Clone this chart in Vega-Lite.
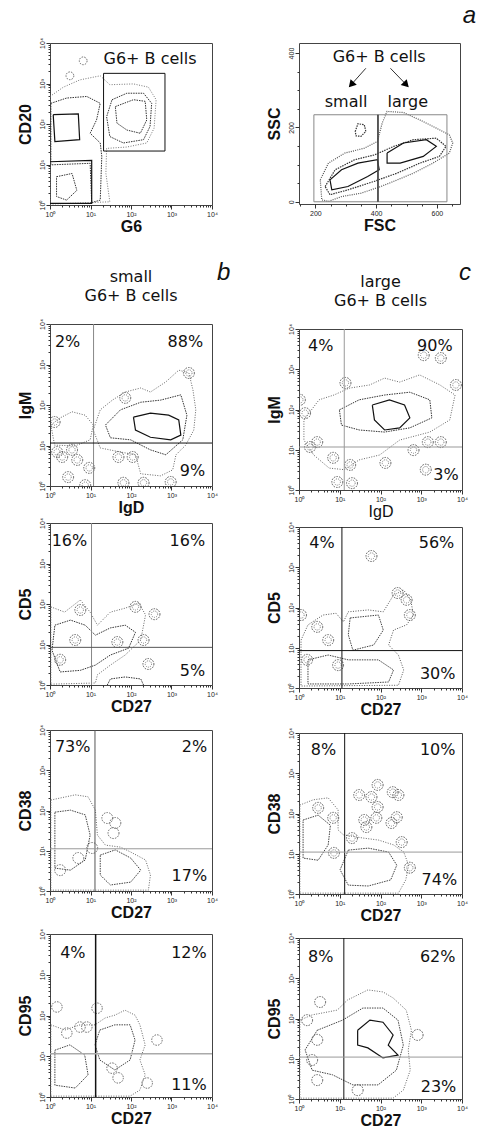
{
"$schema":"https://vega.github.io/schema/vega-lite/v6.json",
"padding":{"left":16,"top":3,"right":0,"bottom":0},
"background":"white",
"config":{
 "view":{"stroke":"#444","strokeWidth":1},
 "font":"Liberation Sans",
 "axis":{"domain":false,"grid":false,"labelFont":"Liberation Sans","labelFontSize":7,"labelColor":"#222","labelPadding":1,"tickColor":"#333","tickWidth":1,"titleFont":"Liberation Sans","titleFontSize":16,"titleFontWeight":"bold","titleColor":"#111"},
 "axisX":{"titlePadding":1},
 "axisY":{"labelAngle":270,"titlePadding":5},
 "title":{"font":"DejaVu Sans","fontWeight":"normal","fontSize":16,"color":"#111"}
},
"datasets":{
"contours":[
{"p":"A1","c":"A1a","l":1,"i":0,"x":1,"y":479},{"p":"A1","c":"A1a","l":1,"i":1,"x":2.14,"y":813},{"p":"A1","c":"A1a","l":1,"i":2,"x":5.5,"y":1230},{"p":"A1","c":"A1a","l":1,"i":3,"x":17.4,"y":1550},{"p":"A1","c":"A1a","l":1,"i":4,"x":30,"y":933},{"p":"A1","c":"A1a","l":1,"i":5,"x":115,"y":977},{"p":"A1","c":"A1a","l":1,"i":6,"x":269,"y":813},{"p":"A1","c":"A1a","l":1,"i":7,"x":417,"y":398},{"p":"A1","c":"A1a","l":1,"i":8,"x":372,"y":79},{"p":"A1","c":"A1a","l":1,"i":9,"x":245,"y":34},{"p":"A1","c":"A1a","l":1,"i":10,"x":79,"y":27},{"p":"A1","c":"A1a","l":1,"i":11,"x":25,"y":25},{"p":"A1","c":"A1a","l":1,"i":12,"x":24,"y":6},{"p":"A1","c":"A1a","l":1,"i":13,"x":30,"y":1.2},{"p":"A1","c":"A1a","l":1,"i":14,"x":1,"y":1.05},{"p":"A1","c":"A1a","l":1,"i":15,"x":1,"y":479},
{"p":"A1","c":"A1b","l":2,"i":0,"x":1.05,"y":324},{"p":"A1","c":"A1b","l":2,"i":1,"x":2.57,"y":437},{"p":"A1","c":"A1b","l":2,"i":2,"x":8.1,"y":479},{"p":"A1","c":"A1b","l":2,"i":3,"x":17.4,"y":324},{"p":"A1","c":"A1b","l":2,"i":4,"x":14.1,"y":126},{"p":"A1","c":"A1b","l":2,"i":5,"x":9.8,"y":59},{"p":"A1","c":"A1b","l":2,"i":6,"x":17.4,"y":34},{"p":"A1","c":"A1b","l":2,"i":7,"x":19,"y":15.8},{"p":"A1","c":"A1b","l":2,"i":8,"x":17.4,"y":1.32},{"p":"A1","c":"A1b","l":2,"i":9,"x":10.7,"y":1.15},{"p":"A1","c":"A1b","l":2,"i":10,"x":9.8,"y":10.7},{"p":"A1","c":"A1b","l":2,"i":11,"x":1.05,"y":9.8},{"p":"A1","c":"A1b","l":2,"i":12,"x":1.05,"y":324},
{"p":"A1","c":"A1c","l":3,"i":0,"x":1.2,"y":170},{"p":"A1","c":"A1c","l":3,"i":1,"x":5,"y":178},{"p":"A1","c":"A1c","l":3,"i":2,"x":5.4,"y":41},{"p":"A1","c":"A1c","l":3,"i":3,"x":1.32,"y":37},{"p":"A1","c":"A1c","l":3,"i":4,"x":1.2,"y":170},
{"p":"A1","c":"A1d","l":3,"i":0,"x":1,"y":11.7},{"p":"A1","c":"A1d","l":3,"i":1,"x":10.7,"y":12.6},{"p":"A1","c":"A1d","l":3,"i":2,"x":10.7,"y":1.1},{"p":"A1","c":"A1d","l":3,"i":3,"x":1,"y":1.1},
{"p":"A1","c":"A1e","l":2,"i":0,"x":34,"y":398},{"p":"A1","c":"A1e","l":2,"i":1,"x":79,"y":575},{"p":"A1","c":"A1e","l":2,"i":2,"x":204,"y":575},{"p":"A1","c":"A1e","l":2,"i":3,"x":324,"y":324},{"p":"A1","c":"A1e","l":2,"i":4,"x":295,"y":87},{"p":"A1","c":"A1e","l":2,"i":5,"x":204,"y":41},{"p":"A1","c":"A1e","l":2,"i":6,"x":65,"y":34},{"p":"A1","c":"A1e","l":2,"i":7,"x":30,"y":49},{"p":"A1","c":"A1e","l":2,"i":8,"x":25,"y":151},{"p":"A1","c":"A1e","l":2,"i":9,"x":34,"y":398},
{"p":"A1","c":"A1f","l":2,"i":0,"x":41,"y":269},{"p":"A1","c":"A1f","l":2,"i":1,"x":115,"y":398},{"p":"A1","c":"A1f","l":2,"i":2,"x":224,"y":363},{"p":"A1","c":"A1f","l":2,"i":3,"x":245,"y":126},{"p":"A1","c":"A1f","l":2,"i":4,"x":170,"y":59},{"p":"A1","c":"A1f","l":2,"i":5,"x":79,"y":71},{"p":"A1","c":"A1f","l":2,"i":6,"x":45,"y":105},{"p":"A1","c":"A1f","l":2,"i":7,"x":41,"y":269},
{"p":"A1","c":"A1g","l":2,"i":0,"x":1.45,"y":5},{"p":"A1","c":"A1g","l":2,"i":1,"x":3.5,"y":6},{"p":"A1","c":"A1g","l":2,"i":2,"x":4.6,"y":2.3},{"p":"A1","c":"A1g","l":2,"i":3,"x":2.57,"y":1.32},{"p":"A1","c":"A1g","l":2,"i":4,"x":1.45,"y":1.62},{"p":"A1","c":"A1g","l":2,"i":5,"x":1.45,"y":5},
{"p":"A2","c":"A2a","l":1,"i":0,"x":216,"y":59},{"p":"A2","c":"A2a","l":1,"i":1,"x":243,"y":104},{"p":"A2","c":"A2a","l":1,"i":2,"x":297,"y":131},{"p":"A2","c":"A2a","l":1,"i":3,"x":361,"y":144},{"p":"A2","c":"A2a","l":1,"i":4,"x":404,"y":162},{"p":"A2","c":"A2a","l":1,"i":5,"x":420,"y":212},{"p":"A2","c":"A2a","l":1,"i":6,"x":436,"y":243},{"p":"A2","c":"A2a","l":1,"i":7,"x":490,"y":240},{"p":"A2","c":"A2a","l":1,"i":8,"x":544,"y":220},{"p":"A2","c":"A2a","l":1,"i":9,"x":598,"y":198},{"p":"A2","c":"A2a","l":1,"i":10,"x":641,"y":180},{"p":"A2","c":"A2a","l":1,"i":11,"x":652,"y":158},{"p":"A2","c":"A2a","l":1,"i":12,"x":641,"y":131},{"p":"A2","c":"A2a","l":1,"i":13,"x":587,"y":104},{"p":"A2","c":"A2a","l":1,"i":14,"x":523,"y":77},{"p":"A2","c":"A2a","l":1,"i":15,"x":458,"y":55},{"p":"A2","c":"A2a","l":1,"i":16,"x":415,"y":41},{"p":"A2","c":"A2a","l":1,"i":17,"x":350,"y":23},{"p":"A2","c":"A2a","l":1,"i":18,"x":286,"y":14},{"p":"A2","c":"A2a","l":1,"i":19,"x":243,"y":1},{"p":"A2","c":"A2a","l":1,"i":20,"x":221,"y":5},{"p":"A2","c":"A2a","l":1,"i":21,"x":216,"y":59},
{"p":"A2","c":"A2b","l":2,"i":0,"x":232,"y":41},{"p":"A2","c":"A2b","l":2,"i":1,"x":265,"y":86},{"p":"A2","c":"A2b","l":2,"i":2,"x":329,"y":113},{"p":"A2","c":"A2b","l":2,"i":3,"x":394,"y":126},{"p":"A2","c":"A2b","l":2,"i":4,"x":458,"y":149},{"p":"A2","c":"A2b","l":2,"i":5,"x":523,"y":167},{"p":"A2","c":"A2b","l":2,"i":6,"x":598,"y":171},{"p":"A2","c":"A2b","l":2,"i":7,"x":630,"y":149},{"p":"A2","c":"A2b","l":2,"i":8,"x":608,"y":122},{"p":"A2","c":"A2b","l":2,"i":9,"x":544,"y":104},{"p":"A2","c":"A2b","l":2,"i":10,"x":469,"y":77},{"p":"A2","c":"A2b","l":2,"i":11,"x":394,"y":55},{"p":"A2","c":"A2b","l":2,"i":12,"x":307,"y":32},{"p":"A2","c":"A2b","l":2,"i":13,"x":248,"y":19},{"p":"A2","c":"A2b","l":2,"i":14,"x":232,"y":41},
{"p":"A2","c":"A2c","l":3,"i":0,"x":248,"y":59},{"p":"A2","c":"A2c","l":3,"i":1,"x":286,"y":86},{"p":"A2","c":"A2c","l":3,"i":2,"x":340,"y":104},{"p":"A2","c":"A2c","l":3,"i":3,"x":404,"y":113},{"p":"A2","c":"A2c","l":3,"i":4,"x":410,"y":86},{"p":"A2","c":"A2c","l":3,"i":5,"x":372,"y":68},{"p":"A2","c":"A2c","l":3,"i":6,"x":307,"y":41},{"p":"A2","c":"A2c","l":3,"i":7,"x":254,"y":32},{"p":"A2","c":"A2c","l":3,"i":8,"x":248,"y":59},
{"p":"A2","c":"A2d","l":3,"i":0,"x":436,"y":131},{"p":"A2","c":"A2d","l":3,"i":1,"x":490,"y":158},{"p":"A2","c":"A2d","l":3,"i":2,"x":565,"y":167},{"p":"A2","c":"A2d","l":3,"i":3,"x":598,"y":149},{"p":"A2","c":"A2d","l":3,"i":4,"x":555,"y":122},{"p":"A2","c":"A2d","l":3,"i":5,"x":479,"y":104},{"p":"A2","c":"A2d","l":3,"i":6,"x":436,"y":104},{"p":"A2","c":"A2d","l":3,"i":7,"x":436,"y":131},
{"p":"A2","c":"A2e","l":2,"i":0,"x":331,"y":189},{"p":"A2","c":"A2e","l":2,"i":1,"x":340,"y":210},{"p":"A2","c":"A2e","l":2,"i":2,"x":361,"y":207},{"p":"A2","c":"A2e","l":2,"i":3,"x":366,"y":189},{"p":"A2","c":"A2e","l":2,"i":4,"x":350,"y":176},{"p":"A2","c":"A2e","l":2,"i":5,"x":334,"y":177},{"p":"A2","c":"A2e","l":2,"i":6,"x":331,"y":189},
{"p":"BS","c":"BSa","l":1,"i":0,"x":11.7,"y":24},{"p":"BS","c":"BSa","l":1,"i":1,"x":17.4,"y":76},{"p":"BS","c":"BSa","l":1,"i":2,"x":34.7,"y":132},{"p":"BS","c":"BSa","l":1,"i":3,"x":72,"y":209},{"p":"BS","c":"BSa","l":1,"i":4,"x":174,"y":263},{"p":"BS","c":"BSa","l":1,"i":5,"x":302,"y":209},{"p":"BS","c":"BSa","l":1,"i":6,"x":724,"y":372},{"p":"BS","c":"BSa","l":1,"i":7,"x":1510,"y":724},{"p":"BS","c":"BSa","l":1,"i":8,"x":2690,"y":617},{"p":"BS","c":"BSa","l":1,"i":9,"x":3390,"y":234},{"p":"BS","c":"BSa","l":1,"i":10,"x":3980,"y":76},{"p":"BS","c":"BSa","l":1,"i":11,"x":3550,"y":24},{"p":"BS","c":"BSa","l":1,"i":12,"x":2240,"y":10.2},{"p":"BS","c":"BSa","l":1,"i":13,"x":1290,"y":5.9},{"p":"BS","c":"BSa","l":1,"i":14,"x":1070,"y":2.5},{"p":"BS","c":"BSa","l":1,"i":15,"x":537,"y":1.78},{"p":"BS","c":"BSa","l":1,"i":16,"x":174,"y":2},{"p":"BS","c":"BSa","l":1,"i":17,"x":129,"y":5.9},{"p":"BS","c":"BSa","l":1,"i":18,"x":55,"y":6.9},{"p":"BS","c":"BSa","l":1,"i":19,"x":17.4,"y":8.7},{"p":"BS","c":"BSa","l":1,"i":20,"x":11.7,"y":24},
{"p":"BS","c":"BSb","l":1,"i":0,"x":1.05,"y":32},{"p":"BS","c":"BSb","l":1,"i":1,"x":1.78,"y":48},{"p":"BS","c":"BSb","l":1,"i":2,"x":3.5,"y":68},{"p":"BS","c":"BSb","l":1,"i":3,"x":7.4,"y":56},{"p":"BS","c":"BSb","l":1,"i":4,"x":11.7,"y":32},{"p":"BS","c":"BSb","l":1,"i":5,"x":9.8,"y":13.8},{"p":"BS","c":"BSb","l":1,"i":6,"x":4.2,"y":9.8},{"p":"BS","c":"BSb","l":1,"i":7,"x":1.3,"y":10.2},{"p":"BS","c":"BSb","l":1,"i":8,"x":1.05,"y":32},
{"p":"BS","c":"BSc","l":2,"i":0,"x":23.4,"y":32},{"p":"BS","c":"BSc","l":2,"i":1,"x":55,"y":76},{"p":"BS","c":"BSc","l":2,"i":2,"x":174,"y":117},{"p":"BS","c":"BSc","l":2,"i":3,"x":537,"y":132},{"p":"BS","c":"BSc","l":2,"i":4,"x":1700,"y":178},{"p":"BS","c":"BSc","l":2,"i":5,"x":2400,"y":56},{"p":"BS","c":"BSc","l":2,"i":6,"x":1900,"y":13.8},{"p":"BS","c":"BSc","l":2,"i":7,"x":724,"y":5.9},{"p":"BS","c":"BSc","l":2,"i":8,"x":302,"y":7.8},{"p":"BS","c":"BSc","l":2,"i":9,"x":98,"y":13.8},{"p":"BS","c":"BSc","l":2,"i":10,"x":31,"y":15.5},{"p":"BS","c":"BSc","l":2,"i":11,"x":23.4,"y":32},
{"p":"BS","c":"BSd","l":3,"i":0,"x":115,"y":50},{"p":"BS","c":"BSd","l":3,"i":1,"x":302,"y":63},{"p":"BS","c":"BSd","l":3,"i":2,"x":851,"y":56},{"p":"BS","c":"BSd","l":3,"i":3,"x":1510,"y":43},{"p":"BS","c":"BSd","l":3,"i":4,"x":1700,"y":18},{"p":"BS","c":"BSd","l":3,"i":5,"x":955,"y":13.8},{"p":"BS","c":"BSd","l":3,"i":6,"x":302,"y":16},{"p":"BS","c":"BSd","l":3,"i":7,"x":129,"y":24},{"p":"BS","c":"BSd","l":3,"i":8,"x":115,"y":50},
{"p":"BL","c":"BLa","l":1,"i":0,"x":1.32,"y":55},{"p":"BL","c":"BLa","l":1,"i":1,"x":3.1,"y":174},{"p":"BL","c":"BLa","l":1,"i":2,"x":7.2,"y":229},{"p":"BL","c":"BLa","l":1,"i":3,"x":17,"y":339},{"p":"BL","c":"BLa","l":1,"i":4,"x":54,"y":407},{"p":"BL","c":"BLa","l":1,"i":5,"x":126,"y":603},{"p":"BL","c":"BLa","l":1,"i":6,"x":295,"y":479},{"p":"BL","c":"BLa","l":1,"i":7,"x":912,"y":724},{"p":"BL","c":"BLa","l":1,"i":8,"x":2880,"y":407},{"p":"BL","c":"BLa","l":1,"i":9,"x":6760,"y":229},{"p":"BL","c":"BLa","l":1,"i":10,"x":5010,"y":55},{"p":"BL","c":"BLa","l":1,"i":11,"x":1620,"y":27.5},{"p":"BL","c":"BLa","l":1,"i":12,"x":295,"y":17.4},{"p":"BL","c":"BLa","l":1,"i":13,"x":95,"y":7.4},{"p":"BL","c":"BLa","l":1,"i":14,"x":30,"y":5.6},{"p":"BL","c":"BLa","l":1,"i":15,"x":12.9,"y":3.2},{"p":"BL","c":"BLa","l":1,"i":16,"x":5.5,"y":3.5},{"p":"BL","c":"BLa","l":1,"i":17,"x":2.3,"y":7.4},{"p":"BL","c":"BLa","l":1,"i":18,"x":1.32,"y":17.4},{"p":"BL","c":"BLa","l":1,"i":19,"x":1.32,"y":55},
{"p":"BL","c":"BLb","l":2,"i":0,"x":9.8,"y":98},{"p":"BL","c":"BLb","l":2,"i":1,"x":30,"y":174},{"p":"BL","c":"BLb","l":2,"i":2,"x":126,"y":229},{"p":"BL","c":"BLb","l":2,"i":3,"x":525,"y":269},{"p":"BL","c":"BLb","l":2,"i":4,"x":1620,"y":174},{"p":"BL","c":"BLb","l":2,"i":5,"x":1820,"y":62},{"p":"BL","c":"BLb","l":2,"i":6,"x":525,"y":35},{"p":"BL","c":"BLb","l":2,"i":7,"x":126,"y":27.5},{"p":"BL","c":"BLb","l":2,"i":8,"x":30,"y":31},{"p":"BL","c":"BLb","l":2,"i":9,"x":11,"y":41},{"p":"BL","c":"BLb","l":2,"i":10,"x":9.8,"y":98},
{"p":"BL","c":"BLc","l":3,"i":0,"x":63,"y":129},{"p":"BL","c":"BLc","l":3,"i":1,"x":166,"y":174},{"p":"BL","c":"BLc","l":3,"i":2,"x":389,"y":129},{"p":"BL","c":"BLc","l":3,"i":3,"x":525,"y":62},{"p":"BL","c":"BLc","l":3,"i":4,"x":295,"y":35},{"p":"BL","c":"BLc","l":3,"i":5,"x":126,"y":31},{"p":"BL","c":"BLc","l":3,"i":6,"x":71,"y":55},{"p":"BL","c":"BLc","l":3,"i":7,"x":63,"y":129},
{"p":"CS","c":"CSa","l":1,"i":0,"x":1.05,"y":85},{"p":"CS","c":"CSa","l":1,"i":1,"x":2.3,"y":63},{"p":"CS","c":"CSa","l":1,"i":2,"x":5.6,"y":126},{"p":"CS","c":"CSa","l":1,"i":3,"x":9.8,"y":63},{"p":"CS","c":"CSa","l":1,"i":4,"x":14.8,"y":30},{"p":"CS","c":"CSa","l":1,"i":5,"x":31,"y":63},{"p":"CS","c":"CSa","l":1,"i":6,"x":72,"y":79},{"p":"CS","c":"CSa","l":1,"i":7,"x":155,"y":105},{"p":"CS","c":"CSa","l":1,"i":8,"x":229,"y":54},{"p":"CS","c":"CSa","l":1,"i":9,"x":174,"y":12.9},{"p":"CS","c":"CSa","l":1,"i":10,"x":72,"y":5.5},{"p":"CS","c":"CSa","l":1,"i":11,"x":31,"y":3.1},{"p":"CS","c":"CSa","l":1,"i":12,"x":14.8,"y":1.78},{"p":"CS","c":"CSa","l":1,"i":13,"x":13.2,"y":1.12},{"p":"CS","c":"CSa","l":1,"i":14,"x":1.05,"y":1.05},{"p":"CS","c":"CSa","l":1,"i":15,"x":1.05,"y":85},
{"p":"CS","c":"CSb","l":2,"i":0,"x":1.32,"y":30},{"p":"CS","c":"CSb","l":2,"i":1,"x":3.2,"y":40},{"p":"CS","c":"CSb","l":2,"i":2,"x":7.4,"y":30},{"p":"CS","c":"CSb","l":2,"i":3,"x":13.2,"y":17},{"p":"CS","c":"CSb","l":2,"i":4,"x":31,"y":25.7},{"p":"CS","c":"CSb","l":2,"i":5,"x":72,"y":30},{"p":"CS","c":"CSb","l":2,"i":6,"x":129,"y":20},{"p":"CS","c":"CSb","l":2,"i":7,"x":87,"y":8.1},{"p":"CS","c":"CSb","l":2,"i":8,"x":31,"y":5.5},{"p":"CS","c":"CSb","l":2,"i":9,"x":13.2,"y":3.1},{"p":"CS","c":"CSb","l":2,"i":10,"x":5.6,"y":2.3},{"p":"CS","c":"CSb","l":2,"i":11,"x":1.78,"y":2.1},{"p":"CS","c":"CSb","l":2,"i":12,"x":1.12,"y":7.2},{"p":"CS","c":"CSb","l":2,"i":13,"x":1.32,"y":30},
{"p":"CS","c":"CSc","l":2,"i":0,"x":26,"y":1},{"p":"CS","c":"CSc","l":2,"i":1,"x":31,"y":1.41},{"p":"CS","c":"CSc","l":2,"i":2,"x":72,"y":1.58},{"p":"CS","c":"CSc","l":2,"i":3,"x":174,"y":1.41},{"p":"CS","c":"CSc","l":2,"i":4,"x":204,"y":1},
{"p":"CL","c":"CLa","l":1,"i":0,"x":1.12,"y":15.5},{"p":"CL","c":"CLa","l":1,"i":1,"x":1.66,"y":37},{"p":"CL","c":"CLa","l":1,"i":2,"x":3.9,"y":65},{"p":"CL","c":"CLa","l":1,"i":3,"x":8.1,"y":72},{"p":"CL","c":"CLa","l":1,"i":4,"x":12.3,"y":44},{"p":"CL","c":"CLa","l":1,"i":5,"x":16.2,"y":78},{"p":"CL","c":"CLa","l":1,"i":6,"x":50,"y":87},{"p":"CL","c":"CLa","l":1,"i":7,"x":117,"y":78},{"p":"CL","c":"CLa","l":1,"i":8,"x":209,"y":204},{"p":"CL","c":"CLa","l":1,"i":9,"x":372,"y":269},{"p":"CL","c":"CLa","l":1,"i":10,"x":550,"y":155},{"p":"CL","c":"CLa","l":1,"i":11,"x":646,"y":65},{"p":"CL","c":"CLa","l":1,"i":12,"x":437,"y":37},{"p":"CL","c":"CLa","l":1,"i":13,"x":209,"y":27.5},{"p":"CL","c":"CLa","l":1,"i":14,"x":158,"y":11.7},{"p":"CL","c":"CLa","l":1,"i":15,"x":275,"y":6.6},{"p":"CL","c":"CLa","l":1,"i":16,"x":372,"y":2.8},{"p":"CL","c":"CLa","l":1,"i":17,"x":275,"y":1.17},{"p":"CL","c":"CLa","l":1,"i":18,"x":1.12,"y":1.12},{"p":"CL","c":"CLa","l":1,"i":19,"x":1.12,"y":15.5},
{"p":"CL","c":"CLb","l":2,"i":0,"x":18,"y":55},{"p":"CL","c":"CLb","l":2,"i":1,"x":89,"y":65},{"p":"CL","c":"CLb","l":2,"i":2,"x":117,"y":27.5},{"p":"CL","c":"CLb","l":2,"i":3,"x":68,"y":11.7},{"p":"CL","c":"CLb","l":2,"i":4,"x":21,"y":8.7},{"p":"CL","c":"CLb","l":2,"i":5,"x":16.2,"y":21},{"p":"CL","c":"CLb","l":2,"i":6,"x":18,"y":55},
{"p":"CL","c":"CLc","l":2,"i":0,"x":1.66,"y":5},{"p":"CL","c":"CLc","l":2,"i":1,"x":5.2,"y":6.6},{"p":"CL","c":"CLc","l":2,"i":2,"x":16.2,"y":5},{"p":"CL","c":"CLc","l":2,"i":3,"x":89,"y":5},{"p":"CL","c":"CLc","l":2,"i":4,"x":209,"y":2.8},{"p":"CL","c":"CLc","l":2,"i":5,"x":158,"y":1.41},{"p":"CL","c":"CLc","l":2,"i":6,"x":16.2,"y":1.26},{"p":"CL","c":"CLc","l":2,"i":7,"x":1.66,"y":1.26},{"p":"CL","c":"CLc","l":2,"i":8,"x":1.66,"y":5},
{"p":"DS","c":"DSa","l":1,"i":0,"x":1.05,"y":182},{"p":"DS","c":"DSa","l":1,"i":1,"x":1.78,"y":204},{"p":"DS","c":"DSa","l":1,"i":2,"x":4.2,"y":245},{"p":"DS","c":"DSa","l":1,"i":3,"x":8.7,"y":219},{"p":"DS","c":"DSa","l":1,"i":4,"x":13.2,"y":102},{"p":"DS","c":"DSa","l":1,"i":5,"x":14.8,"y":24.5},{"p":"DS","c":"DSa","l":1,"i":6,"x":23.4,"y":13.8},{"p":"DS","c":"DSa","l":1,"i":7,"x":55,"y":12.3},{"p":"DS","c":"DSa","l":1,"i":8,"x":98,"y":9.3},{"p":"DS","c":"DSa","l":1,"i":9,"x":229,"y":5.9},{"p":"DS","c":"DSa","l":1,"i":10,"x":302,"y":2.5},{"p":"DS","c":"DSa","l":1,"i":11,"x":269,"y":1.05},{"p":"DS","c":"DSa","l":1,"i":12,"x":1.05,"y":1.05},{"p":"DS","c":"DSa","l":1,"i":13,"x":1.05,"y":182},
{"p":"DS","c":"DSb","l":2,"i":0,"x":1.32,"y":91},{"p":"DS","c":"DSb","l":2,"i":1,"x":3.2,"y":102},{"p":"DS","c":"DSb","l":2,"i":2,"x":7.4,"y":78},{"p":"DS","c":"DSb","l":2,"i":3,"x":9.8,"y":24.5},{"p":"DS","c":"DSb","l":2,"i":4,"x":7.4,"y":5.9},{"p":"DS","c":"DSb","l":2,"i":5,"x":3.2,"y":3.3},{"p":"DS","c":"DSb","l":2,"i":6,"x":1.32,"y":3.7},{"p":"DS","c":"DSb","l":2,"i":7,"x":1.32,"y":91},
{"p":"DS","c":"DSc","l":2,"i":0,"x":17.4,"y":7.8},{"p":"DS","c":"DSc","l":2,"i":1,"x":41,"y":10.5},{"p":"DS","c":"DSc","l":2,"i":2,"x":98,"y":6.6},{"p":"DS","c":"DSc","l":2,"i":3,"x":174,"y":3.3},{"p":"DS","c":"DSc","l":2,"i":4,"x":98,"y":1.66},{"p":"DS","c":"DSc","l":2,"i":5,"x":31,"y":1.41},{"p":"DS","c":"DSc","l":2,"i":6,"x":17.4,"y":2.5},{"p":"DS","c":"DSc","l":2,"i":7,"x":17.4,"y":7.8},
{"p":"DL","c":"DLa","l":1,"i":0,"x":1.05,"y":162},{"p":"DL","c":"DLa","l":1,"i":1,"x":2.24,"y":219},{"p":"DL","c":"DLa","l":1,"i":2,"x":5.2,"y":245},{"p":"DL","c":"DLa","l":1,"i":3,"x":9.1,"y":123},{"p":"DL","c":"DLa","l":1,"i":4,"x":9.1,"y":39},{"p":"DL","c":"DLa","l":1,"i":5,"x":12.3,"y":29.5},{"p":"DL","c":"DLa","l":1,"i":6,"x":38,"y":24.5},{"p":"DL","c":"DLa","l":1,"i":7,"x":89,"y":21.9},{"p":"DL","c":"DLa","l":1,"i":8,"x":209,"y":16.6},{"p":"DL","c":"DLa","l":1,"i":9,"x":372,"y":11},{"p":"DL","c":"DLa","l":1,"i":10,"x":490,"y":5.2},{"p":"DL","c":"DLa","l":1,"i":11,"x":417,"y":2.24},{"p":"DL","c":"DLa","l":1,"i":12,"x":275,"y":1.05},{"p":"DL","c":"DLa","l":1,"i":13,"x":1.05,"y":1.05},{"p":"DL","c":"DLa","l":1,"i":14,"x":1.05,"y":162},
{"p":"DL","c":"DLb","l":2,"i":0,"x":16.2,"y":12.3},{"p":"DL","c":"DLb","l":2,"i":1,"x":50,"y":13.8},{"p":"DL","c":"DLb","l":2,"i":2,"x":158,"y":11},{"p":"DL","c":"DLb","l":2,"i":3,"x":251,"y":5.2},{"p":"DL","c":"DLb","l":2,"i":4,"x":178,"y":2.24},{"p":"DL","c":"DLb","l":2,"i":5,"x":50,"y":1.58},{"p":"DL","c":"DLb","l":2,"i":6,"x":16.2,"y":1.66},{"p":"DL","c":"DLb","l":2,"i":7,"x":10.2,"y":4},{"p":"DL","c":"DLb","l":2,"i":8,"x":16.2,"y":12.3},
{"p":"DL","c":"DLc","l":2,"i":0,"x":1.26,"y":69},{"p":"DL","c":"DLc","l":2,"i":1,"x":2.95,"y":91},{"p":"DL","c":"DLc","l":2,"i":2,"x":5.9,"y":51},{"p":"DL","c":"DLc","l":2,"i":3,"x":5.2,"y":16.6},{"p":"DL","c":"DLc","l":2,"i":4,"x":2.95,"y":6.9},{"p":"DL","c":"DLc","l":2,"i":5,"x":1.26,"y":7.8},{"p":"DL","c":"DLc","l":2,"i":6,"x":1.26,"y":69},
{"p":"ES","c":"ESa","l":1,"i":0,"x":1.05,"y":59},{"p":"ES","c":"ESa","l":1,"i":1,"x":2.34,"y":44},{"p":"ES","c":"ESa","l":1,"i":2,"x":5.5,"y":59},{"p":"ES","c":"ESa","l":1,"i":3,"x":12.9,"y":59},{"p":"ES","c":"ESa","l":1,"i":4,"x":23,"y":87},{"p":"ES","c":"ESa","l":1,"i":5,"x":40,"y":102},{"p":"ES","c":"ESa","l":1,"i":6,"x":71,"y":135},{"p":"ES","c":"ESa","l":1,"i":7,"x":126,"y":102},{"p":"ES","c":"ESa","l":1,"i":8,"x":166,"y":59},{"p":"ES","c":"ESa","l":1,"i":9,"x":224,"y":19},{"p":"ES","c":"ESa","l":1,"i":10,"x":166,"y":8.1},{"p":"ES","c":"ESa","l":1,"i":11,"x":224,"y":3.5},{"p":"ES","c":"ESa","l":1,"i":12,"x":166,"y":1.48},{"p":"ES","c":"ESa","l":1,"i":13,"x":95,"y":1.05},{"p":"ES","c":"ESa","l":1,"i":14,"x":1.05,"y":1.05},{"p":"ES","c":"ESa","l":1,"i":15,"x":1.05,"y":59},
{"p":"ES","c":"ESb","l":2,"i":0,"x":17,"y":44},{"p":"ES","c":"ESb","l":2,"i":1,"x":40,"y":59},{"p":"ES","c":"ESb","l":2,"i":2,"x":95,"y":59},{"p":"ES","c":"ESb","l":2,"i":3,"x":126,"y":25},{"p":"ES","c":"ESb","l":2,"i":4,"x":95,"y":8.1},{"p":"ES","c":"ESb","l":2,"i":5,"x":40,"y":4.6},{"p":"ES","c":"ESb","l":2,"i":6,"x":17,"y":8.1},{"p":"ES","c":"ESb","l":2,"i":7,"x":12.9,"y":19},{"p":"ES","c":"ESb","l":2,"i":8,"x":17,"y":44},
{"p":"ES","c":"ESc","l":2,"i":0,"x":1.32,"y":14.1},{"p":"ES","c":"ESc","l":2,"i":1,"x":3.1,"y":19},{"p":"ES","c":"ESc","l":2,"i":2,"x":7.2,"y":10.7},{"p":"ES","c":"ESc","l":2,"i":3,"x":8.7,"y":3.5},{"p":"ES","c":"ESc","l":2,"i":4,"x":4.2,"y":1.66},{"p":"ES","c":"ESc","l":2,"i":5,"x":1.32,"y":1.95},{"p":"ES","c":"ESc","l":2,"i":6,"x":1.32,"y":14.1},
{"p":"EL","c":"ELa","l":1,"i":0,"x":1.05,"y":91},{"p":"EL","c":"ELa","l":1,"i":1,"x":2.1,"y":123},{"p":"EL","c":"ELa","l":1,"i":2,"x":5,"y":145},{"p":"EL","c":"ELa","l":1,"i":3,"x":8.7,"y":162},{"p":"EL","c":"ELa","l":1,"i":4,"x":15.5,"y":288},{"p":"EL","c":"ELa","l":1,"i":5,"x":49,"y":513},{"p":"EL","c":"ELa","l":1,"i":6,"x":115,"y":457},{"p":"EL","c":"ELa","l":1,"i":7,"x":204,"y":324},{"p":"EL","c":"ELa","l":1,"i":8,"x":427,"y":162},{"p":"EL","c":"ELa","l":1,"i":9,"x":575,"y":51},{"p":"EL","c":"ELa","l":1,"i":10,"x":479,"y":16.6},{"p":"EL","c":"ELa","l":1,"i":11,"x":537,"y":5.2},{"p":"EL","c":"ELa","l":1,"i":12,"x":363,"y":1.66},{"p":"EL","c":"ELa","l":1,"i":13,"x":204,"y":1.05},{"p":"EL","c":"ELa","l":1,"i":14,"x":1.05,"y":1.05},{"p":"EL","c":"ELa","l":1,"i":15,"x":1.05,"y":91},
{"p":"EL","c":"ELb","l":2,"i":0,"x":2.8,"y":51},{"p":"EL","c":"ELb","l":2,"i":1,"x":11.7,"y":91},{"p":"EL","c":"ELb","l":2,"i":2,"x":37,"y":182},{"p":"EL","c":"ELb","l":2,"i":3,"x":115,"y":182},{"p":"EL","c":"ELb","l":2,"i":4,"x":269,"y":91},{"p":"EL","c":"ELb","l":2,"i":5,"x":363,"y":21.9},{"p":"EL","c":"ELb","l":2,"i":6,"x":245,"y":5.2},{"p":"EL","c":"ELb","l":2,"i":7,"x":87,"y":2.24},{"p":"EL","c":"ELb","l":2,"i":8,"x":21,"y":2.24},{"p":"EL","c":"ELb","l":2,"i":9,"x":6.6,"y":4},{"p":"EL","c":"ELb","l":2,"i":10,"x":2.1,"y":5.2},{"p":"EL","c":"ELb","l":2,"i":11,"x":1.41,"y":16.6},{"p":"EL","c":"ELb","l":2,"i":12,"x":2.8,"y":51},
{"p":"EL","c":"ELc","l":3,"i":0,"x":27.5,"y":51},{"p":"EL","c":"ELc","l":3,"i":1,"x":55,"y":91},{"p":"EL","c":"ELc","l":3,"i":2,"x":115,"y":81},{"p":"EL","c":"ELc","l":3,"i":3,"x":204,"y":39},{"p":"EL","c":"ELc","l":3,"i":4,"x":155,"y":21.9},{"p":"EL","c":"ELc","l":3,"i":5,"x":269,"y":12.3},{"p":"EL","c":"ELc","l":3,"i":6,"x":115,"y":10.5},{"p":"EL","c":"ELc","l":3,"i":7,"x":49,"y":18.6},{"p":"EL","c":"ELc","l":3,"i":8,"x":27.5,"y":21.9},{"p":"EL","c":"ELc","l":3,"i":9,"x":27.5,"y":51}
],
"blobs":[
{"p":"A1","x":6.6,"y":3630},{"p":"A1","x":3.1,"y":1550},
{"p":"BS","x":2,"y":5.2},{"p":"BS","x":4.7,"y":4.4},{"p":"BS","x":2.8,"y":1.66},{"p":"BS","x":9.3,"y":2.8},{"p":"BS","x":7.4,"y":1.05},{"p":"BS","x":49,"y":5.2},{"p":"BS","x":110,"y":5.2},{"p":"BS","x":65,"y":1.2},{"p":"BS","x":204,"y":1.2},{"p":"BS","x":955,"y":1.26},{"p":"BS","x":1.3,"y":38},{"p":"BS","x":1.5,"y":6.9},{"p":"BS","x":3.5,"y":7.8},{"p":"BS","x":2690,"y":617},{"p":"BS","x":72,"y":150},
{"p":"BL","x":1150,"y":2240},{"p":"BL","x":3020,"y":1900},{"p":"BL","x":7080,"y":407},{"p":"BL","x":13.8,"y":457},{"p":"BL","x":1.41,"y":81},{"p":"BL","x":1.05,"y":174},{"p":"BL","x":2.8,"y":15.5},{"p":"BL","x":1450,"y":15.5},{"p":"BL","x":3020,"y":15.5},{"p":"BL","x":646,"y":9.8},{"p":"BL","x":1.86,"y":11.7},{"p":"BL","x":6.9,"y":6.3},{"p":"BL","x":18,"y":4.2},{"p":"BL","x":132,"y":4.7},{"p":"BL","x":1290,"y":3.2},{"p":"BL","x":8.7,"y":1.58},{"p":"BL","x":20,"y":1.48},
{"p":"CS","x":129,"y":85},{"p":"CS","x":380,"y":56},{"p":"CS","x":204,"y":12.9},{"p":"CS","x":269,"y":3.3},{"p":"CS","x":5.6,"y":71},{"p":"CS","x":1.78,"y":4.2},{"p":"CS","x":4.2,"y":12.9},{"p":"CS","x":46,"y":11.5},
{"p":"CL","x":60,"y":1900},{"p":"CL","x":263,"y":229},{"p":"CL","x":437,"y":155},{"p":"CL","x":525,"y":65},{"p":"CL","x":2.8,"y":33},{"p":"CL","x":1.58,"y":5},{"p":"CL","x":1.12,"y":65},{"p":"CL","x":5.2,"y":15.5},{"p":"CL","x":9.1,"y":3.7},
{"p":"DS","x":26,"y":65},{"p":"DS","x":41,"y":49},{"p":"DS","x":37,"y":27.5},{"p":"DS","x":1.78,"y":3.3},{"p":"DS","x":5,"y":6.6},{"p":"DS","x":11,"y":11.7},
{"p":"DL","x":85,"y":513},{"p":"DL","x":30,"y":288},{"p":"DL","x":60,"y":257},{"p":"DL","x":200,"y":339},{"p":"DL","x":275,"y":288},{"p":"DL","x":85,"y":145},{"p":"DL","x":79,"y":78},{"p":"DL","x":40,"y":69},{"p":"DL","x":45,"y":46},{"p":"DL","x":186,"y":58},{"p":"DL","x":251,"y":81},{"p":"DL","x":331,"y":19.5},{"p":"DL","x":20,"y":24.5},{"p":"DL","x":7.2,"y":10.5},{"p":"DL","x":525,"y":4.5},{"p":"DL","x":2.95,"y":138},{"p":"DL","x":6.9,"y":78},
{"p":"ES","x":1.48,"y":162},{"p":"ES","x":14.5,"y":151},{"p":"ES","x":437,"y":25},{"p":"ES","x":251,"y":2.2},{"p":"ES","x":5.5,"y":52},{"p":"ES","x":8.1,"y":52},{"p":"ES","x":2.6,"y":37},{"p":"ES","x":34,"y":5.1},{"p":"ES","x":48,"y":2.95},
{"p":"EL","x":3.3,"y":257},{"p":"EL","x":813,"y":39},{"p":"EL","x":1.58,"y":91},{"p":"EL","x":2.8,"y":29.5},{"p":"EL","x":2.1,"y":9.3},{"p":"EL","x":2.8,"y":2.95},{"p":"EL","x":27.5,"y":1.66}
],
"vlines":[{"p":"BS","x":11.9,"y":1,"y2":10000},{"p":"BL","x":12.9,"y":1,"y2":10000},{"p":"CS","x":10.6,"y":1,"y2":10000},{"p":"CL","x":11.3,"y":1,"y2":10000},{"p":"DS","x":12.9,"y":1,"y2":10000},{"p":"DL","x":13.2,"y":1,"y2":10000},{"p":"ES","x":13.4,"y":1,"y2":10000},{"p":"EL","x":12.6,"y":1,"y2":10000}],
"hlines":[{"p":"BS","y":11.5,"x":1,"x2":10000},{"p":"BL","y":11.7,"x":1,"x2":10000},{"p":"CS","y":8.5,"x":1,"x2":10000},{"p":"CL","y":8.5,"x":1,"x2":10000},{"p":"DS","y":11.2,"x":1,"x2":10000},{"p":"DL","y":11,"x":1,"x2":10000},{"p":"ES","y":11.5,"x":1,"x2":10000},{"p":"EL","y":11,"x":1,"x2":10000}],
"labels":[
{"p":"BS","q":"L","x":1.32,"y":3630,"t":"2%"},{"p":"BS","q":"R","x":6030,"y":3630,"t":"88%"},{"p":"BS","q":"R","x":6760,"y":2.34,"t":"9%"},
{"p":"BL","q":"L","x":1.66,"y":3720,"t":"4%"},{"p":"BL","q":"R","x":5890,"y":3720,"t":"90%"},{"p":"BL","q":"R","x":8320,"y":2.34,"t":"3%"},
{"p":"CS","q":"L","x":1.1,"y":3630,"t":"16%"},{"p":"CS","q":"R","x":6760,"y":3630,"t":"16%"},{"p":"CS","q":"R","x":6760,"y":2.24,"t":"5%"},
{"p":"CL","q":"L","x":1.78,"y":3980,"t":"4%"},{"p":"CL","q":"R","x":6460,"y":3980,"t":"56%"},{"p":"CL","q":"R","x":6920,"y":2.24,"t":"30%"},
{"p":"DS","q":"L","x":1.32,"y":3720,"t":"73%"},{"p":"DS","q":"R","x":7590,"y":3720,"t":"2%"},{"p":"DS","q":"R","x":7590,"y":2.34,"t":"17%"},
{"p":"DL","q":"L","x":1.95,"y":3800,"t":"8%"},{"p":"DL","q":"R","x":6920,"y":3800,"t":"10%"},{"p":"DL","q":"R","x":7590,"y":2.29,"t":"74%"},
{"p":"ES","q":"L","x":1.78,"y":3470,"t":"4%"},{"p":"ES","q":"R","x":7410,"y":3470,"t":"12%"},{"p":"ES","q":"R","x":7410,"y":2,"t":"11%"},
{"p":"EL","q":"L","x":1.66,"y":3470,"t":"8%"},{"p":"EL","q":"R","x":6920,"y":3470,"t":"62%"},{"p":"EL","q":"R","x":7240,"y":2,"t":"23%"},
{"p":"A1","q":"C","x":295,"y":4000,"t":"G6+ B cells"},
{"p":"A2","q":"C","x":410,"y":390,"t":"G6+ B cells"},{"p":"A2","q":"C","x":301,"y":269,"t":"small"},{"p":"A2","q":"C","x":504,"y":269,"t":"large"}
],
"gates":[
{"p":"A1","k":"box","x":21,"x2":690,"y":21.5,"y2":1780},
{"p":"A2","k":"box","x":195,"x2":406,"y":0,"y2":234},
{"p":"A2","k":"box","x":406,"x2":633,"y":0,"y2":234},
{"p":"A2","k":"div","x":406,"y":0,"y2":234}
],
"arrows":[{"p":"A2","a":1,"x":366,"y":359,"x2":318,"y2":315},{"p":"A2","a":2,"x":447,"y":359,"x2":499,"y2":315}]
},
"hconcat":[
 {"vconcat":[
  {"width":162,"height":162,
   "encoding":{
    "x":{"field":"x","type":"quantitative","scale":{"type":"log","domain":[1,10000]},"axis":{"title":"G6","values":[1,2,3,4,5,6,7,8,9,10,20,30,40,50,60,70,80,90,100,200,300,400,500,600,700,800,900,1000,2000,3000,4000,5000,6000,7000,8000,9000,10000],"labelExpr":"datum.value==1?'10⁰':datum.value==10?'10¹':datum.value==100?'10²':datum.value==1000?'10³':datum.value==10000?'10⁴':''","tickSize":{"condition":{"test":"indexof([1,10,100,1000,10000],datum.value)>=0","value":4},"value":2},"labelFlush":false,"labelOverlap":false}},
    "y":{"field":"y","type":"quantitative","scale":{"type":"log","domain":[1,10000]},"axis":{"title":"CD20","values":[1,2,3,4,5,6,7,8,9,10,20,30,40,50,60,70,80,90,100,200,300,400,500,600,700,800,900,1000,2000,3000,4000,5000,6000,7000,8000,9000,10000],"labelExpr":"datum.value==1?'10⁰':datum.value==10?'10¹':datum.value==100?'10²':datum.value==1000?'10³':datum.value==10000?'10⁴':''","tickSize":{"condition":{"test":"indexof([1,10,100,1000,10000],datum.value)>=0","value":4},"value":2},"labelFlush":false,"labelOverlap":false}}
   },
   "layer":[
    {"data":{"name":"contours"},"transform":[{"filter":"datum.p=='A1'&&datum.l==1"}],"mark":{"type":"line","stroke":"#777","strokeWidth":1,"strokeDash":[1,1.5],"clip":true},"encoding":{"detail":{"field":"c"},"order":{"field":"i"}}},
    {"data":{"name":"contours"},"transform":[{"filter":"datum.p=='A1'&&datum.l==2"}],"mark":{"type":"line","stroke":"#333","strokeWidth":1,"strokeDash":[1.5,1],"clip":true},"encoding":{"detail":{"field":"c"},"order":{"field":"i"}}},
    {"data":{"name":"contours"},"transform":[{"filter":"datum.p=='A1'&&datum.l==3"}],"mark":{"type":"line","stroke":"#111","strokeWidth":1.2,"clip":true},"encoding":{"detail":{"field":"c"},"order":{"field":"i"}}},
    {"data":{"name":"blobs"},"transform":[{"filter":"datum.p=='A1'"}],"mark":{"type":"point","shape":"circle","size":60,"filled":false,"stroke":"#666","strokeWidth":1,"strokeDash":[1.5,1.2],"opacity":1,"clip":true}},
    {"data":{"name":"gates"},"transform":[{"filter":"datum.p=='A1'"}],"mark":{"type":"rect","fill":"transparent","stroke":"#111","strokeWidth":1},"encoding":{"x2":{"field":"x2"},"y2":{"field":"y2"}}},
    {"data":{"name":"labels"},"transform":[{"filter":"datum.p=='A1'"}],"mark":{"type":"text","align":"center","baseline":"middle","font":"DejaVu Sans","fontSize":16,"color":"#111"},"encoding":{"text":{"field":"t"}}}
   ]},
  {"title":{"text":"b","anchor":"start","frame":"group","font":"Liberation Sans","fontStyle":"italic","fontWeight":"normal","fontSize":24,"dx":167,"offset":-36,"baseline":"alphabetic"},
   "vconcat":[
    {"width":162,"height":162,
     "title":{"text":["small","G6+ B cells"],"anchor":"middle","lineHeight":19,"offset":15},
     "encoding":{
      "x":{"field":"x","type":"quantitative","scale":{"type":"log","domain":[1,10000]},"axis":{"title":"IgD","values":[1,2,3,4,5,6,7,8,9,10,20,30,40,50,60,70,80,90,100,200,300,400,500,600,700,800,900,1000,2000,3000,4000,5000,6000,7000,8000,9000,10000],"labelExpr":"datum.value==1?'10⁰':datum.value==10?'10¹':datum.value==100?'10²':datum.value==1000?'10³':datum.value==10000?'10⁴':''","tickSize":{"condition":{"test":"indexof([1,10,100,1000,10000],datum.value)>=0","value":4},"value":2},"labelFlush":false,"labelOverlap":false}},
      "y":{"field":"y","type":"quantitative","scale":{"type":"log","domain":[1,10000]},"axis":{"title":"IgM","values":[1,2,3,4,5,6,7,8,9,10,20,30,40,50,60,70,80,90,100,200,300,400,500,600,700,800,900,1000,2000,3000,4000,5000,6000,7000,8000,9000,10000],"labelExpr":"datum.value==1?'10⁰':datum.value==10?'10¹':datum.value==100?'10²':datum.value==1000?'10³':datum.value==10000?'10⁴':''","tickSize":{"condition":{"test":"indexof([1,10,100,1000,10000],datum.value)>=0","value":4},"value":2},"labelFlush":false,"labelOverlap":false}}
     },
     "layer":[
      {"data":{"name":"contours"},"transform":[{"filter":"datum.p=='BS'&&datum.l==1"}],"mark":{"type":"line","stroke":"#666","strokeWidth":1,"strokeDash":[1,1.5],"clip":true},"encoding":{"detail":{"field":"c"},"order":{"field":"i"}}},
      {"data":{"name":"contours"},"transform":[{"filter":"datum.p=='BS'&&datum.l==2"}],"mark":{"type":"line","stroke":"#333","strokeWidth":1,"strokeDash":[1.5,1],"clip":true},"encoding":{"detail":{"field":"c"},"order":{"field":"i"}}},
      {"data":{"name":"contours"},"transform":[{"filter":"datum.p=='BS'&&datum.l==3"}],"mark":{"type":"line","stroke":"#111","strokeWidth":1.2,"clip":true},"encoding":{"detail":{"field":"c"},"order":{"field":"i"}}},
      {"data":{"name":"blobs"},"transform":[{"filter":"datum.p=='BS'"}],"mark":{"type":"point","shape":"circle","size":120,"filled":false,"stroke":"#555","strokeWidth":1,"strokeDash":[1.5,1.2],"opacity":1,"clip":true}},
      {"data":{"name":"blobs"},"transform":[{"filter":"datum.p=='BS'"}],"mark":{"type":"point","shape":"circle","size":40,"filled":false,"stroke":"#777","strokeWidth":1,"strokeDash":[1,1.2],"opacity":1,"clip":true}},
      {"data":{"name":"vlines"},"transform":[{"filter":"datum.p=='BS'"}],"mark":{"type":"rule","stroke":"#888","strokeWidth":1},"encoding":{"y2":{"field":"y2"}}},
      {"data":{"name":"hlines"},"transform":[{"filter":"datum.p=='BS'"}],"mark":{"type":"rule","stroke":"#111","strokeWidth":1},"encoding":{"x2":{"field":"x2"}}},
      {"data":{"name":"labels"},"transform":[{"filter":"datum.p=='BS'&&datum.q=='L'"}],"mark":{"type":"text","align":"left","baseline":"middle","font":"DejaVu Sans","fontSize":16,"color":"#111"},"encoding":{"text":{"field":"t"}}},
      {"data":{"name":"labels"},"transform":[{"filter":"datum.p=='BS'&&datum.q=='R'"}],"mark":{"type":"text","align":"right","baseline":"middle","font":"DejaVu Sans","fontSize":16,"color":"#111"},"encoding":{"text":{"field":"t"}}}
     ]},
    {"vconcat":[
      {"width":162,"height":162,
       "encoding":{
        "x":{"field":"x","type":"quantitative","scale":{"type":"log","domain":[1,10000]},"axis":{"title":"CD27","values":[1,2,3,4,5,6,7,8,9,10,20,30,40,50,60,70,80,90,100,200,300,400,500,600,700,800,900,1000,2000,3000,4000,5000,6000,7000,8000,9000,10000],"labelExpr":"datum.value==1?'10⁰':datum.value==10?'10¹':datum.value==100?'10²':datum.value==1000?'10³':datum.value==10000?'10⁴':''","tickSize":{"condition":{"test":"indexof([1,10,100,1000,10000],datum.value)>=0","value":4},"value":2},"labelFlush":false,"labelOverlap":false}},
        "y":{"field":"y","type":"quantitative","scale":{"type":"log","domain":[1,10000]},"axis":{"title":"CD5","values":[1,2,3,4,5,6,7,8,9,10,20,30,40,50,60,70,80,90,100,200,300,400,500,600,700,800,900,1000,2000,3000,4000,5000,6000,7000,8000,9000,10000],"labelExpr":"datum.value==1?'10⁰':datum.value==10?'10¹':datum.value==100?'10²':datum.value==1000?'10³':datum.value==10000?'10⁴':''","tickSize":{"condition":{"test":"indexof([1,10,100,1000,10000],datum.value)>=0","value":4},"value":2},"labelFlush":false,"labelOverlap":false}}
       },
       "layer":[
        {"data":{"name":"contours"},"transform":[{"filter":"datum.p=='CS'&&datum.l==1"}],"mark":{"type":"line","stroke":"#666","strokeWidth":1,"strokeDash":[1,1.5],"clip":true},"encoding":{"detail":{"field":"c"},"order":{"field":"i"}}},
        {"data":{"name":"contours"},"transform":[{"filter":"datum.p=='CS'&&datum.l==2"}],"mark":{"type":"line","stroke":"#333","strokeWidth":1,"strokeDash":[1.5,1],"clip":true},"encoding":{"detail":{"field":"c"},"order":{"field":"i"}}},
        {"data":{"name":"blobs"},"transform":[{"filter":"datum.p=='CS'"}],"mark":{"type":"point","shape":"circle","size":120,"filled":false,"stroke":"#555","strokeWidth":1,"strokeDash":[1.5,1.2],"opacity":1,"clip":true}},
        {"data":{"name":"blobs"},"transform":[{"filter":"datum.p=='CS'"}],"mark":{"type":"point","shape":"circle","size":40,"filled":false,"stroke":"#777","strokeWidth":1,"strokeDash":[1,1.2],"opacity":1,"clip":true}},
        {"data":{"name":"vlines"},"transform":[{"filter":"datum.p=='CS'"}],"mark":{"type":"rule","stroke":"#888","strokeWidth":1},"encoding":{"y2":{"field":"y2"}}},
        {"data":{"name":"hlines"},"transform":[{"filter":"datum.p=='CS'"}],"mark":{"type":"rule","stroke":"#555","strokeWidth":1},"encoding":{"x2":{"field":"x2"}}},
        {"data":{"name":"labels"},"transform":[{"filter":"datum.p=='CS'&&datum.q=='L'"}],"mark":{"type":"text","align":"left","baseline":"middle","font":"DejaVu Sans","fontSize":16,"color":"#111"},"encoding":{"text":{"field":"t"}}},
        {"data":{"name":"labels"},"transform":[{"filter":"datum.p=='CS'&&datum.q=='R'"}],"mark":{"type":"text","align":"right","baseline":"middle","font":"DejaVu Sans","fontSize":16,"color":"#111"},"encoding":{"text":{"field":"t"}}}
       ]},
      {"vconcat":[
        {"width":162,"height":161,
         "encoding":{
          "x":{"field":"x","type":"quantitative","scale":{"type":"log","domain":[1,10000]},"axis":{"title":"CD27","values":[1,2,3,4,5,6,7,8,9,10,20,30,40,50,60,70,80,90,100,200,300,400,500,600,700,800,900,1000,2000,3000,4000,5000,6000,7000,8000,9000,10000],"labelExpr":"datum.value==1?'10⁰':datum.value==10?'10¹':datum.value==100?'10²':datum.value==1000?'10³':datum.value==10000?'10⁴':''","tickSize":{"condition":{"test":"indexof([1,10,100,1000,10000],datum.value)>=0","value":4},"value":2},"labelFlush":false,"labelOverlap":false}},
          "y":{"field":"y","type":"quantitative","scale":{"type":"log","domain":[1,10000]},"axis":{"title":"CD38","values":[1,2,3,4,5,6,7,8,9,10,20,30,40,50,60,70,80,90,100,200,300,400,500,600,700,800,900,1000,2000,3000,4000,5000,6000,7000,8000,9000,10000],"labelExpr":"datum.value==1?'10⁰':datum.value==10?'10¹':datum.value==100?'10²':datum.value==1000?'10³':datum.value==10000?'10⁴':''","tickSize":{"condition":{"test":"indexof([1,10,100,1000,10000],datum.value)>=0","value":4},"value":2},"labelFlush":false,"labelOverlap":false}}
         },
         "layer":[
          {"data":{"name":"contours"},"transform":[{"filter":"datum.p=='DS'&&datum.l==1"}],"mark":{"type":"line","stroke":"#666","strokeWidth":1,"strokeDash":[1,1.5],"clip":true},"encoding":{"detail":{"field":"c"},"order":{"field":"i"}}},
          {"data":{"name":"contours"},"transform":[{"filter":"datum.p=='DS'&&datum.l==2"}],"mark":{"type":"line","stroke":"#444","strokeWidth":1,"strokeDash":[1.5,1],"clip":true},"encoding":{"detail":{"field":"c"},"order":{"field":"i"}}},
          {"data":{"name":"blobs"},"transform":[{"filter":"datum.p=='DS'"}],"mark":{"type":"point","shape":"circle","size":120,"filled":false,"stroke":"#666","strokeWidth":1,"strokeDash":[1.5,1.2],"opacity":1,"clip":true}},
          {"data":{"name":"vlines"},"transform":[{"filter":"datum.p=='DS'"}],"mark":{"type":"rule","stroke":"#555","strokeWidth":1},"encoding":{"y2":{"field":"y2"}}},
          {"data":{"name":"hlines"},"transform":[{"filter":"datum.p=='DS'"}],"mark":{"type":"rule","stroke":"#999","strokeWidth":1},"encoding":{"x2":{"field":"x2"}}},
          {"data":{"name":"labels"},"transform":[{"filter":"datum.p=='DS'&&datum.q=='L'"}],"mark":{"type":"text","align":"left","baseline":"middle","font":"DejaVu Sans","fontSize":16,"color":"#111"},"encoding":{"text":{"field":"t"}}},
          {"data":{"name":"labels"},"transform":[{"filter":"datum.p=='DS'&&datum.q=='R'"}],"mark":{"type":"text","align":"right","baseline":"middle","font":"DejaVu Sans","fontSize":16,"color":"#111"},"encoding":{"text":{"field":"t"}}}
         ]},
        {"width":162,"height":163,
         "encoding":{
          "x":{"field":"x","type":"quantitative","scale":{"type":"log","domain":[1,10000]},"axis":{"title":"CD27","values":[1,2,3,4,5,6,7,8,9,10,20,30,40,50,60,70,80,90,100,200,300,400,500,600,700,800,900,1000,2000,3000,4000,5000,6000,7000,8000,9000,10000],"labelExpr":"datum.value==1?'10⁰':datum.value==10?'10¹':datum.value==100?'10²':datum.value==1000?'10³':datum.value==10000?'10⁴':''","tickSize":{"condition":{"test":"indexof([1,10,100,1000,10000],datum.value)>=0","value":4},"value":2},"labelFlush":false,"labelOverlap":false}},
          "y":{"field":"y","type":"quantitative","scale":{"type":"log","domain":[1,10000]},"axis":{"title":"CD95","values":[1,2,3,4,5,6,7,8,9,10,20,30,40,50,60,70,80,90,100,200,300,400,500,600,700,800,900,1000,2000,3000,4000,5000,6000,7000,8000,9000,10000],"labelExpr":"datum.value==1?'10⁰':datum.value==10?'10¹':datum.value==100?'10²':datum.value==1000?'10³':datum.value==10000?'10⁴':''","tickSize":{"condition":{"test":"indexof([1,10,100,1000,10000],datum.value)>=0","value":4},"value":2},"labelFlush":false,"labelOverlap":false}}
         },
         "layer":[
          {"data":{"name":"contours"},"transform":[{"filter":"datum.p=='ES'&&datum.l==1"}],"mark":{"type":"line","stroke":"#666","strokeWidth":1,"strokeDash":[1,1.5],"clip":true},"encoding":{"detail":{"field":"c"},"order":{"field":"i"}}},
          {"data":{"name":"contours"},"transform":[{"filter":"datum.p=='ES'&&datum.l==2"}],"mark":{"type":"line","stroke":"#444","strokeWidth":1,"strokeDash":[1.5,1],"clip":true},"encoding":{"detail":{"field":"c"},"order":{"field":"i"}}},
          {"data":{"name":"blobs"},"transform":[{"filter":"datum.p=='ES'"}],"mark":{"type":"point","shape":"circle","size":110,"filled":false,"stroke":"#666","strokeWidth":1,"strokeDash":[1.5,1.2],"opacity":1,"clip":true}},
          {"data":{"name":"vlines"},"transform":[{"filter":"datum.p=='ES'"}],"mark":{"type":"rule","stroke":"#111","strokeWidth":1.5},"encoding":{"y2":{"field":"y2"}}},
          {"data":{"name":"hlines"},"transform":[{"filter":"datum.p=='ES'"}],"mark":{"type":"rule","stroke":"#aaa","strokeWidth":1.5},"encoding":{"x2":{"field":"x2"}}},
          {"data":{"name":"labels"},"transform":[{"filter":"datum.p=='ES'&&datum.q=='L'"}],"mark":{"type":"text","align":"left","baseline":"middle","font":"DejaVu Sans","fontSize":16,"color":"#111"},"encoding":{"text":{"field":"t"}}},
          {"data":{"name":"labels"},"transform":[{"filter":"datum.p=='ES'&&datum.q=='R'"}],"mark":{"type":"text","align":"right","baseline":"middle","font":"DejaVu Sans","fontSize":16,"color":"#111"},"encoding":{"text":{"field":"t"}}}
         ]}
       ],"spacing":43,"bounds":"flush"}
     ],"spacing":45,"bounds":"flush"}
   ],"spacing":37,"bounds":"flush"}
 ],"spacing":119,"bounds":"flush"},
 {"vconcat":[
  {"width":161,"height":161,
   "title":{"text":"a","anchor":"end","frame":"group","font":"Liberation Sans","fontStyle":"italic","fontWeight":"normal","fontSize":24,"dx":16,"offset":-4,"baseline":"alphabetic"},
   "encoding":{
    "x":{"field":"x","type":"quantitative","scale":{"domain":[146,676],"nice":false,"zero":false},"axis":{"title":"FSC","values":[150,200,250,300,350,400,450,500,550,600,650],"labelExpr":"datum.value%200==0?datum.label:''","tickSize":{"condition":{"test":"datum.value%200==0","value":4},"value":2},"labelFlush":false,"labelOverlap":false}},
    "y":{"field":"y","type":"quantitative","scale":{"domain":[-6,427],"nice":false,"zero":false},"axis":{"title":"SSC","values":[0,50,100,150,200,250,300,350,400],"labelExpr":"datum.value%200==0?datum.label:''","tickSize":{"condition":{"test":"datum.value%200==0","value":4},"value":2},"labelFlush":false,"labelOverlap":false}}
   },
   "layer":[
    {"data":{"name":"contours"},"transform":[{"filter":"datum.p=='A2'&&datum.l==1"}],"mark":{"type":"line","stroke":"#555","strokeWidth":1.2,"strokeDash":[1,1.2],"clip":true},"encoding":{"detail":{"field":"c"},"order":{"field":"i"}}},
    {"data":{"name":"contours"},"transform":[{"filter":"datum.p=='A2'&&datum.l==2"}],"mark":{"type":"line","stroke":"#333","strokeWidth":1.2,"strokeDash":[1.5,1],"clip":true},"encoding":{"detail":{"field":"c"},"order":{"field":"i"}}},
    {"data":{"name":"contours"},"transform":[{"filter":"datum.p=='A2'&&datum.l==3"}],"mark":{"type":"line","stroke":"#111","strokeWidth":1.2,"clip":true},"encoding":{"detail":{"field":"c"},"order":{"field":"i"}}},
    {"data":{"name":"gates"},"transform":[{"filter":"datum.p=='A2'&&datum.k=='box'"}],"mark":{"type":"rect","fill":"transparent","stroke":"#888","strokeWidth":1},"encoding":{"x2":{"field":"x2"},"y2":{"field":"y2"}}},
    {"data":{"name":"gates"},"transform":[{"filter":"datum.p=='A2'&&datum.k=='div'"}],"mark":{"type":"rule","stroke":"#111","strokeWidth":1},"encoding":{"y2":{"field":"y2"}}},
    {"data":{"name":"arrows"},"transform":[{"filter":"datum.p=='A2'"}],"mark":{"type":"rule","stroke":"#333","strokeWidth":1},"encoding":{"x2":{"field":"x2"},"y2":{"field":"y2"}}},
    {"data":{"name":"arrows"},"transform":[{"filter":"datum.a==1"}],"mark":{"type":"point","shape":"triangle-down","angle":42,"size":70,"filled":true,"color":"#000","opacity":1},"encoding":{"x":{"field":"x2","type":"quantitative"},"y":{"field":"y2","type":"quantitative"}}},
    {"data":{"name":"arrows"},"transform":[{"filter":"datum.a==2"}],"mark":{"type":"point","shape":"triangle-down","angle":-44,"size":70,"filled":true,"color":"#000","opacity":1},"encoding":{"x":{"field":"x2","type":"quantitative"},"y":{"field":"y2","type":"quantitative"}}},
    {"data":{"name":"labels"},"transform":[{"filter":"datum.p=='A2'"}],"mark":{"type":"text","align":"center","baseline":"middle","font":"DejaVu Sans","fontSize":16,"color":"#111"},"encoding":{"text":{"field":"t"}}}
   ]},
  {"title":{"text":"c","anchor":"start","frame":"group","font":"Liberation Sans","fontStyle":"italic","fontWeight":"normal","fontSize":24,"dx":160,"offset":-31,"baseline":"alphabetic"},
   "vconcat":[
    {"width":163,"height":161,
     "title":{"text":["large","G6+ B cells"],"anchor":"middle","lineHeight":19,"offset":15},
     "encoding":{
      "x":{"field":"x","type":"quantitative","scale":{"type":"log","domain":[1,10000]},"axis":{"title":"IgD","values":[1,2,3,4,5,6,7,8,9,10,20,30,40,50,60,70,80,90,100,200,300,400,500,600,700,800,900,1000,2000,3000,4000,5000,6000,7000,8000,9000,10000],"labelExpr":"datum.value==1?'10⁰':datum.value==10?'10¹':datum.value==100?'10²':datum.value==1000?'10³':datum.value==10000?'10⁴':''","tickSize":{"condition":{"test":"indexof([1,10,100,1000,10000],datum.value)>=0","value":4},"value":2},"labelFlush":false,"labelOverlap":false,"titleFontWeight":"normal"}},
      "y":{"field":"y","type":"quantitative","scale":{"type":"log","domain":[1,10000]},"axis":{"title":"IgM","values":[1,2,3,4,5,6,7,8,9,10,20,30,40,50,60,70,80,90,100,200,300,400,500,600,700,800,900,1000,2000,3000,4000,5000,6000,7000,8000,9000,10000],"labelExpr":"datum.value==1?'10⁰':datum.value==10?'10¹':datum.value==100?'10²':datum.value==1000?'10³':datum.value==10000?'10⁴':''","tickSize":{"condition":{"test":"indexof([1,10,100,1000,10000],datum.value)>=0","value":4},"value":2},"labelFlush":false,"labelOverlap":false}}
     },
     "layer":[
      {"data":{"name":"contours"},"transform":[{"filter":"datum.p=='BL'&&datum.l==1"}],"mark":{"type":"line","stroke":"#666","strokeWidth":1,"strokeDash":[1,1.5],"clip":true},"encoding":{"detail":{"field":"c"},"order":{"field":"i"}}},
      {"data":{"name":"contours"},"transform":[{"filter":"datum.p=='BL'&&datum.l==2"}],"mark":{"type":"line","stroke":"#333","strokeWidth":1,"strokeDash":[1.5,1],"clip":true},"encoding":{"detail":{"field":"c"},"order":{"field":"i"}}},
      {"data":{"name":"contours"},"transform":[{"filter":"datum.p=='BL'&&datum.l==3"}],"mark":{"type":"line","stroke":"#111","strokeWidth":1.2,"clip":true},"encoding":{"detail":{"field":"c"},"order":{"field":"i"}}},
      {"data":{"name":"blobs"},"transform":[{"filter":"datum.p=='BL'"}],"mark":{"type":"point","shape":"circle","size":120,"filled":false,"stroke":"#555","strokeWidth":1,"strokeDash":[1.5,1.2],"opacity":1,"clip":true}},
      {"data":{"name":"blobs"},"transform":[{"filter":"datum.p=='BL'"}],"mark":{"type":"point","shape":"circle","size":40,"filled":false,"stroke":"#777","strokeWidth":1,"strokeDash":[1,1.2],"opacity":1,"clip":true}},
      {"data":{"name":"vlines"},"transform":[{"filter":"datum.p=='BL'"}],"mark":{"type":"rule","stroke":"#999","strokeWidth":1},"encoding":{"y2":{"field":"y2"}}},
      {"data":{"name":"hlines"},"transform":[{"filter":"datum.p=='BL'"}],"mark":{"type":"rule","stroke":"#999","strokeWidth":1},"encoding":{"x2":{"field":"x2"}}},
      {"data":{"name":"labels"},"transform":[{"filter":"datum.p=='BL'&&datum.q=='L'"}],"mark":{"type":"text","align":"left","baseline":"middle","font":"DejaVu Sans","fontSize":16,"color":"#111"},"encoding":{"text":{"field":"t"}}},
      {"data":{"name":"labels"},"transform":[{"filter":"datum.p=='BL'&&datum.q=='R'"}],"mark":{"type":"text","align":"right","baseline":"middle","font":"DejaVu Sans","fontSize":16,"color":"#111"},"encoding":{"text":{"field":"t"}}}
     ]},
    {"vconcat":[
      {"width":163,"height":161,
       "encoding":{
        "x":{"field":"x","type":"quantitative","scale":{"type":"log","domain":[1,10000]},"axis":{"title":"CD27","values":[1,2,3,4,5,6,7,8,9,10,20,30,40,50,60,70,80,90,100,200,300,400,500,600,700,800,900,1000,2000,3000,4000,5000,6000,7000,8000,9000,10000],"labelExpr":"datum.value==1?'10⁰':datum.value==10?'10¹':datum.value==100?'10²':datum.value==1000?'10³':datum.value==10000?'10⁴':''","tickSize":{"condition":{"test":"indexof([1,10,100,1000,10000],datum.value)>=0","value":4},"value":2},"labelFlush":false,"labelOverlap":false}},
        "y":{"field":"y","type":"quantitative","scale":{"type":"log","domain":[1,10000]},"axis":{"title":"CD5","values":[1,2,3,4,5,6,7,8,9,10,20,30,40,50,60,70,80,90,100,200,300,400,500,600,700,800,900,1000,2000,3000,4000,5000,6000,7000,8000,9000,10000],"labelExpr":"datum.value==1?'10⁰':datum.value==10?'10¹':datum.value==100?'10²':datum.value==1000?'10³':datum.value==10000?'10⁴':''","tickSize":{"condition":{"test":"indexof([1,10,100,1000,10000],datum.value)>=0","value":4},"value":2},"labelFlush":false,"labelOverlap":false}}
       },
       "layer":[
        {"data":{"name":"contours"},"transform":[{"filter":"datum.p=='CL'&&datum.l==1"}],"mark":{"type":"line","stroke":"#555","strokeWidth":1,"strokeDash":[1,1.5],"clip":true},"encoding":{"detail":{"field":"c"},"order":{"field":"i"}}},
        {"data":{"name":"contours"},"transform":[{"filter":"datum.p=='CL'&&datum.l==2"}],"mark":{"type":"line","stroke":"#444","strokeWidth":1,"strokeDash":[1.5,1],"clip":true},"encoding":{"detail":{"field":"c"},"order":{"field":"i"}}},
        {"data":{"name":"blobs"},"transform":[{"filter":"datum.p=='CL'"}],"mark":{"type":"point","shape":"circle","size":120,"filled":false,"stroke":"#555","strokeWidth":1,"strokeDash":[1.5,1.2],"opacity":1,"clip":true}},
        {"data":{"name":"blobs"},"transform":[{"filter":"datum.p=='CL'"}],"mark":{"type":"point","shape":"circle","size":40,"filled":false,"stroke":"#777","strokeWidth":1,"strokeDash":[1,1.2],"opacity":1,"clip":true}},
        {"data":{"name":"vlines"},"transform":[{"filter":"datum.p=='CL'"}],"mark":{"type":"rule","stroke":"#111","strokeWidth":1},"encoding":{"y2":{"field":"y2"}}},
        {"data":{"name":"hlines"},"transform":[{"filter":"datum.p=='CL'"}],"mark":{"type":"rule","stroke":"#111","strokeWidth":1},"encoding":{"x2":{"field":"x2"}}},
        {"data":{"name":"labels"},"transform":[{"filter":"datum.p=='CL'&&datum.q=='L'"}],"mark":{"type":"text","align":"left","baseline":"middle","font":"DejaVu Sans","fontSize":16,"color":"#111"},"encoding":{"text":{"field":"t"}}},
        {"data":{"name":"labels"},"transform":[{"filter":"datum.p=='CL'&&datum.q=='R'"}],"mark":{"type":"text","align":"right","baseline":"middle","font":"DejaVu Sans","fontSize":16,"color":"#111"},"encoding":{"text":{"field":"t"}}}
       ]},
      {"vconcat":[
        {"width":163,"height":161,
         "encoding":{
          "x":{"field":"x","type":"quantitative","scale":{"type":"log","domain":[1,10000]},"axis":{"title":"CD27","values":[1,2,3,4,5,6,7,8,9,10,20,30,40,50,60,70,80,90,100,200,300,400,500,600,700,800,900,1000,2000,3000,4000,5000,6000,7000,8000,9000,10000],"labelExpr":"datum.value==1?'10⁰':datum.value==10?'10¹':datum.value==100?'10²':datum.value==1000?'10³':datum.value==10000?'10⁴':''","tickSize":{"condition":{"test":"indexof([1,10,100,1000,10000],datum.value)>=0","value":4},"value":2},"labelFlush":false,"labelOverlap":false}},
          "y":{"field":"y","type":"quantitative","scale":{"type":"log","domain":[1,10000]},"axis":{"title":"CD38","values":[1,2,3,4,5,6,7,8,9,10,20,30,40,50,60,70,80,90,100,200,300,400,500,600,700,800,900,1000,2000,3000,4000,5000,6000,7000,8000,9000,10000],"labelExpr":"datum.value==1?'10⁰':datum.value==10?'10¹':datum.value==100?'10²':datum.value==1000?'10³':datum.value==10000?'10⁴':''","tickSize":{"condition":{"test":"indexof([1,10,100,1000,10000],datum.value)>=0","value":4},"value":2},"labelFlush":false,"labelOverlap":false}}
         },
         "layer":[
          {"data":{"name":"contours"},"transform":[{"filter":"datum.p=='DL'&&datum.l==1"}],"mark":{"type":"line","stroke":"#666","strokeWidth":1,"strokeDash":[1,1.5],"clip":true},"encoding":{"detail":{"field":"c"},"order":{"field":"i"}}},
          {"data":{"name":"contours"},"transform":[{"filter":"datum.p=='DL'&&datum.l==2"}],"mark":{"type":"line","stroke":"#444","strokeWidth":1,"strokeDash":[1.5,1],"clip":true},"encoding":{"detail":{"field":"c"},"order":{"field":"i"}}},
          {"data":{"name":"blobs"},"transform":[{"filter":"datum.p=='DL'"}],"mark":{"type":"point","shape":"circle","size":120,"filled":false,"stroke":"#555","strokeWidth":1,"strokeDash":[1.5,1.2],"opacity":1,"clip":true}},
          {"data":{"name":"blobs"},"transform":[{"filter":"datum.p=='DL'"}],"mark":{"type":"point","shape":"circle","size":40,"filled":false,"stroke":"#777","strokeWidth":1,"strokeDash":[1,1.2],"opacity":1,"clip":true}},
          {"data":{"name":"vlines"},"transform":[{"filter":"datum.p=='DL'"}],"mark":{"type":"rule","stroke":"#111","strokeWidth":1},"encoding":{"y2":{"field":"y2"}}},
          {"data":{"name":"hlines"},"transform":[{"filter":"datum.p=='DL'"}],"mark":{"type":"rule","stroke":"#999","strokeWidth":1},"encoding":{"x2":{"field":"x2"}}},
          {"data":{"name":"labels"},"transform":[{"filter":"datum.p=='DL'&&datum.q=='L'"}],"mark":{"type":"text","align":"left","baseline":"middle","font":"DejaVu Sans","fontSize":16,"color":"#111"},"encoding":{"text":{"field":"t"}}},
          {"data":{"name":"labels"},"transform":[{"filter":"datum.p=='DL'&&datum.q=='R'"}],"mark":{"type":"text","align":"right","baseline":"middle","font":"DejaVu Sans","fontSize":16,"color":"#111"},"encoding":{"text":{"field":"t"}}}
         ]},
        {"width":163,"height":161,
         "encoding":{
          "x":{"field":"x","type":"quantitative","scale":{"type":"log","domain":[1,10000]},"axis":{"title":"CD27","values":[1,2,3,4,5,6,7,8,9,10,20,30,40,50,60,70,80,90,100,200,300,400,500,600,700,800,900,1000,2000,3000,4000,5000,6000,7000,8000,9000,10000],"labelExpr":"datum.value==1?'10⁰':datum.value==10?'10¹':datum.value==100?'10²':datum.value==1000?'10³':datum.value==10000?'10⁴':''","tickSize":{"condition":{"test":"indexof([1,10,100,1000,10000],datum.value)>=0","value":4},"value":2},"labelFlush":false,"labelOverlap":false}},
          "y":{"field":"y","type":"quantitative","scale":{"type":"log","domain":[1,10000]},"axis":{"title":"CD95","values":[1,2,3,4,5,6,7,8,9,10,20,30,40,50,60,70,80,90,100,200,300,400,500,600,700,800,900,1000,2000,3000,4000,5000,6000,7000,8000,9000,10000],"labelExpr":"datum.value==1?'10⁰':datum.value==10?'10¹':datum.value==100?'10²':datum.value==1000?'10³':datum.value==10000?'10⁴':''","tickSize":{"condition":{"test":"indexof([1,10,100,1000,10000],datum.value)>=0","value":4},"value":2},"labelFlush":false,"labelOverlap":false}}
         },
         "layer":[
          {"data":{"name":"contours"},"transform":[{"filter":"datum.p=='EL'&&datum.l==1"}],"mark":{"type":"line","stroke":"#666","strokeWidth":1,"strokeDash":[1,1.5],"clip":true},"encoding":{"detail":{"field":"c"},"order":{"field":"i"}}},
          {"data":{"name":"contours"},"transform":[{"filter":"datum.p=='EL'&&datum.l==2"}],"mark":{"type":"line","stroke":"#444","strokeWidth":1,"strokeDash":[1.5,1],"clip":true},"encoding":{"detail":{"field":"c"},"order":{"field":"i"}}},
          {"data":{"name":"contours"},"transform":[{"filter":"datum.p=='EL'&&datum.l==3"}],"mark":{"type":"line","stroke":"#111","strokeWidth":1.2,"clip":true},"encoding":{"detail":{"field":"c"},"order":{"field":"i"}}},
          {"data":{"name":"blobs"},"transform":[{"filter":"datum.p=='EL'"}],"mark":{"type":"point","shape":"circle","size":120,"filled":false,"stroke":"#555","strokeWidth":1,"strokeDash":[1.5,1.2],"opacity":1,"clip":true}},
          {"data":{"name":"vlines"},"transform":[{"filter":"datum.p=='EL'"}],"mark":{"type":"rule","stroke":"#111","strokeWidth":1},"encoding":{"y2":{"field":"y2"}}},
          {"data":{"name":"hlines"},"transform":[{"filter":"datum.p=='EL'"}],"mark":{"type":"rule","stroke":"#999","strokeWidth":1},"encoding":{"x2":{"field":"x2"}}},
          {"data":{"name":"labels"},"transform":[{"filter":"datum.p=='EL'&&datum.q=='L'"}],"mark":{"type":"text","align":"left","baseline":"middle","font":"DejaVu Sans","fontSize":16,"color":"#111"},"encoding":{"text":{"field":"t"}}},
          {"data":{"name":"labels"},"transform":[{"filter":"datum.p=='EL'&&datum.q=='R'"}],"mark":{"type":"text","align":"right","baseline":"middle","font":"DejaVu Sans","fontSize":16,"color":"#111"},"encoding":{"text":{"field":"t"}}}
         ]}
       ],"spacing":44,"bounds":"flush"}
     ],"spacing":45,"bounds":"flush"}
   ],"spacing":37,"bounds":"flush"}
 ],"spacing":125,"bounds":"flush"}
],
"spacing":249,
"bounds":"flush"
}
